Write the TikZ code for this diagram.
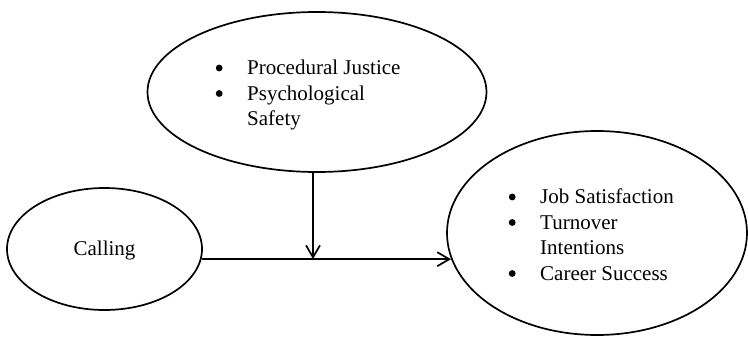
\documentclass[tikz,border=0pt]{standalone}
\usepackage{fontspec}
\setmainfont{Liberation Serif}
\usetikzlibrary{arrows.meta,shapes.geometric}

\tikzset{
  oval/.style={draw, ellipse, line width=1.7pt, inner sep=0pt},
  link/.style={line width=1.7pt, -{Straight Barb[length=12pt,width=14pt,line width=1.7pt]}},
  lbl/.style={inner sep=0pt, font=\fontsize{21}{25.5}\selectfont},
}
% round bullet mark, its centre 7pt above the baseline
\newcommand{\blt}{\tikz[baseline=-7pt]\fill (0,0) circle (3.4pt);}
\newcommand{\bulletlist}[1]{\begin{tabular}[t]{@{}l@{\hspace{24.6pt}}l@{}}#1\end{tabular}}

\begin{document}
\begin{tikzpicture}[x=1pt, y=1pt]
  \useasboundingbox (0,0) rectangle (748,-337);

  % moderators, predictor and outcomes
  \node[oval, minimum width=339pt, minimum height=160pt] (mod) at (317,-92) {};
  \node[oval, minimum width=195pt, minimum height=122pt] (calling) at (104.5,-249) {};
  \node[oval, minimum width=300pt, minimum height=204pt] (out) at (597,-233) {};

  % texts inside the ellipses
  \node[lbl, anchor=base west] (modtext) at (215.6,-75)
    {\bulletlist{\blt & Procedural Justice\\ \blt & Psychological\\ & Safety}};
  \node[lbl, anchor=base] (callingtext) at (104.5,-255) {Calling};
  \node[lbl, anchor=base west] (outtext) at (508.6,-204)
    {\bulletlist{\blt & Job Satisfaction\\ \blt & Turnover\\ & Intentions\\ \blt & Career Success}};

  % main path and moderating arrow
  \coordinate (j) at (313,-260);
  \draw[link] (calling.-6.5) -- (calling.-6.5 -| out.190.6);
  \draw[link] (mod.south -| j) -- ([yshift=1pt]j);
\end{tikzpicture}
\end{document}
